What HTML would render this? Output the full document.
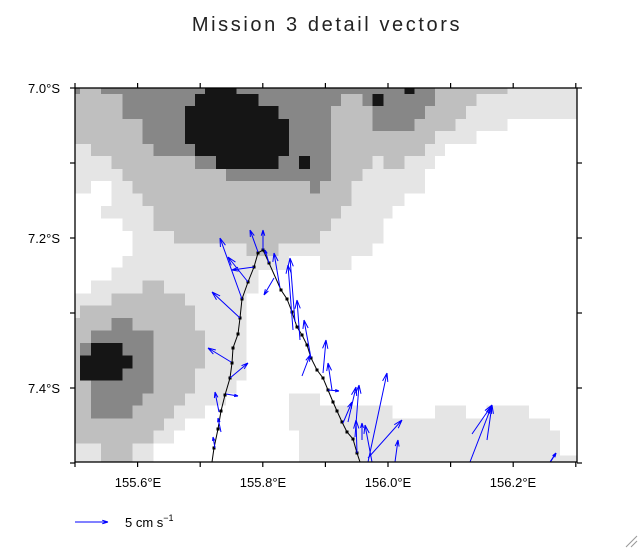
<!DOCTYPE html>
<html><head><meta charset="utf-8"><style>
html,body{margin:0;padding:0;background:#fff;}
svg{display:block;font-family:"Liberation Sans",sans-serif;}
</style></head><body>
<svg id="s" width="640" height="550" viewBox="0 0 640 550" xmlns="http://www.w3.org/2000/svg">
<text x="327" y="31" font-size="20" text-anchor="middle" fill="#222" letter-spacing="2.6">Mission 3 detail vectors</text>
<defs><clipPath id="cp"><rect x="75" y="88" width="502" height="374"/></clipPath></defs>
<g clip-path="url(#cp)">
<g id="g1" transform="translate(70,80) scale(0.33333)" shape-rendering="crispEdges"></g>
<g id="g2" transform="translate(70,260) scale(0.33333)" shape-rendering="crispEdges"></g>
<polyline fill="none" stroke="#000" stroke-width="1" points="212,462 214,448 218,429 221,411 225,395 230,378 232,363 233,348 238,334 240,318 242,299 248,282 254,267 258,253 263,250 269,263 281,290 287,299 292,312 297,327 302,335 307,345 311,358 317,370 323,378 328,390 333,402 337,411 342,422 347,432 353,439 357,453 360,462"/>
<g id="dots" fill="#000"></g>
<g id="arr" stroke="#0000ff" stroke-width="1" fill="none"></g>
</g>
<rect x="75" y="88" width="502" height="374" fill="none" stroke="#000" stroke-width="1.3"/>
<g id="ticks" stroke="#000" stroke-width="1.2"></g>
<g font-size="13" fill="#000">
<text x="60" y="93" text-anchor="end">7.0°S</text>
<text x="60" y="243" text-anchor="end">7.2°S</text>
<text x="60" y="393" text-anchor="end">7.4°S</text>
<text x="138" y="487" text-anchor="middle">155.6°E</text>
<text x="263" y="487" text-anchor="middle">155.8°E</text>
<text x="388" y="487" text-anchor="middle">156.0°E</text>
<text x="513" y="487" text-anchor="middle">156.2°E</text>
<text x="125" y="527">5 cm s<tspan font-size="9" dy="-6">−1</tspan></text>
</g>
<g id="leg" stroke="#0000ff" stroke-width="1" fill="none"></g>
<g stroke="#999" stroke-width="1"><line x1="626" y1="547" x2="637" y2="536"/><line x1="631" y1="547" x2="637" y2="541"/></g>
</svg>
<script>
var a='#e5e5e5',b='#bfbfbf',c='#878787',d='#151515';
var R1=[[22,42,[[15,30,c],[30,93,b],[93,405,c],[405,500,d],[500,1003,c],[1003,1033,d],[1033,1095,c],[1095,1313,b],[1313,1520,a]]],
[42,78,[[15,157,b],[157,375,c],[375,565,d],[565,813,c],[813,877,b],[877,907,c],[907,940,d],[940,1095,c],[1095,1220,b],[1220,1520,a]]],
[78,117,[[15,157,b],[157,345,c],[345,625,d],[625,783,c],[783,907,b],[907,1065,c],[1065,1188,b],[1188,1520,a]]],
[117,153,[[15,218,b],[218,345,c],[345,657,d],[657,783,c],[783,907,b],[907,1033,c],[1033,1157,b],[1157,1313,a]]],
[153,192,[[15,218,b],[218,345,c],[345,657,d],[657,783,c],[783,1095,b],[1095,1220,a]]],
[192,228,[[15,63,a],[63,250,b],[250,375,c],[375,657,d],[657,783,c],[783,1065,b],[1065,1125,a]]],
[228,267,[[15,125,a],[125,375,b],[375,438,c],[438,625,d],[625,687,c],[687,720,d],[720,783,c],[783,907,b],[907,940,a],[940,1003,b],[1003,1095,a]]],
[267,303,[[15,157,a],[157,468,b],[468,783,c],[783,877,b],[877,1065,a]]],
[303,340,[[15,63,a],[125,187,a],[187,720,b],[720,750,c],[750,845,b],[845,1065,a]]],
[340,378,[[125,218,a],[218,845,b],[845,1003,a]]],
[378,415,[[93,250,a],[250,813,b],[813,968,a]]],
[415,453,[[157,250,a],[250,783,b],[783,940,a]]],
[453,490,[[187,312,a],[312,750,b],[750,940,a]]],
[490,528,[[187,530,a],[530,625,b],[625,907,a]]],
[528,570,[[157,657,a],[750,845,a]]]];
var R2=[[22,62,[[125,565,a]]],
[62,100,[[63,218,a],[218,282,b],[282,565,a]]],
[100,137,[[15,125,a],[125,345,b],[345,530,a]]],
[137,174,[[15,30,a],[30,375,b],[375,530,a]]],
[174,212,[[15,125,b],[125,187,c],[187,375,b],[375,530,a]]],
[212,249,[[15,63,b],[63,250,c],[250,405,b],[405,530,a]]],
[249,287,[[15,30,b],[30,63,c],[63,157,d],[157,250,c],[250,405,b],[405,530,a]]],
[287,325,[[15,30,b],[30,187,d],[187,250,c],[250,405,b],[405,530,a]]],
[325,362,[[15,30,b],[30,157,d],[157,250,c],[250,375,b],[375,530,a]]],
[362,400,[[15,63,b],[63,250,c],[250,375,b],[375,500,a]]],
[400,437,[[15,63,b],[63,218,c],[218,345,b],[345,468,a],[657,750,a]]],
[437,475,[[15,63,b],[63,187,c],[187,312,b],[312,405,a],[657,968,a],[1095,1188,a],[1250,1377,a]]],
[475,512,[[15,282,b],[282,345,a],[657,1440,a]]],
[512,550,[[15,250,b],[250,312,a],[687,1470,a]]],
[550,587,[[15,93,a],[93,187,b],[187,250,a],[687,1470,a]]],
[587,610,[[15,93,a],[93,187,b],[187,250,a],[687,1520,a]]]];
var NS='http://www.w3.org/2000/svg';
function el(p,t,at){var e=document.createElementNS(NS,t);for(var k in at)e.setAttribute(k,at[k]);p.appendChild(e);return e;}
function fill(g,R){R.forEach(function(r){r[2].forEach(function(s){el(g,'rect',{x:s[0],y:r[0],width:s[1]-s[0],height:r[1]-r[0],fill:s[2]});});});}
fill(document.getElementById('g1'),R1);fill(document.getElementById('g2'),R2);
var tp=[[214,448],[218,429],[221,411],[225,395],[230,378],[232,363],[233,348],[238,334],[240,318],[242,299],[248,282],[254,267],[258,253],[263,250],[269,263],[281,290],[287,299],[292,312],[297,327],[302,335],[307,345],[311,358],[317,370],[323,378],[328,390],[333,402],[337,411],[342,422],[347,432],[353,439],[357,453]];
var dg=document.getElementById('dots');tp.forEach(function(p){el(dg,'rect',{x:p[0]-1.5,y:p[1]-1.5,width:3,height:3});});
function arrow(g,x1,y1,x2,y2,h){var dx=x2-x1,dy=y2-y1,L=Math.sqrt(dx*dx+dy*dy);h=h||Math.min(9,Math.max(4,L*0.3));var ux=dx/L,uy=dy/L,ang=0.3;
var p='M'+x1+','+y1+'L'+x2+','+y2;
[ang,-ang].forEach(function(t){var cx=ux*Math.cos(t)-uy*Math.sin(t),cy=ux*Math.sin(t)+uy*Math.cos(t);p+='M'+x2+','+y2+'L'+(x2-cx*h)+','+(y2-cy*h);});
el(g,'path',{d:p});}
var A=[[258,252,250,230],[263,250,263,230],[242,299,220,238],[248,282,228,257],[254,267,232,270],[274,278,264,295],[240,318,212,292],[269,263,265,250],
[280,288,274,253],[295,322,290,258],[293,330,288,265],[300,340,297,300],
[231,362,208,348],[230,378,248,363],[226,394,238,396],[219,412,215,392],[215,448,213,437],[221,432,218,418],
[302,376,310,355],[332,390,328,363],[323,373,326,340],[328,390,339,391],[311,358,304,320],
[348,422,356,387],[343,423,352,402],[355,437,359,385],[368,462,387,373],[368,458,402,420],[395,462,398,440],[362,440,362,423],[357,453,356,420],[372,462,365,425],
[470,462,492,405],[472,434,492,405],[487,440,492,405],[550,462,556,453],[548,466,556,453]];
var ag=document.getElementById('arr');A.forEach(function(q){arrow(ag,q[0],q[1],q[2],q[3]);});
arrow(document.getElementById('leg'),75,522,108,522,6);
var tg=document.getElementById('ticks');
for(var i=0;i<=8;i++){var x=75+i*62.6;el(tg,'line',{x1:x,y1:462,x2:x,y2:467});el(tg,'line',{x1:x,y1:88,x2:x,y2:83});}
for(var j=0;j<=5;j++){var y=88+j*75;el(tg,'line',{x1:75,y1:y,x2:70,y2:y});el(tg,'line',{x1:577,y1:y,x2:582,y2:y});}
</script>
</body></html>
